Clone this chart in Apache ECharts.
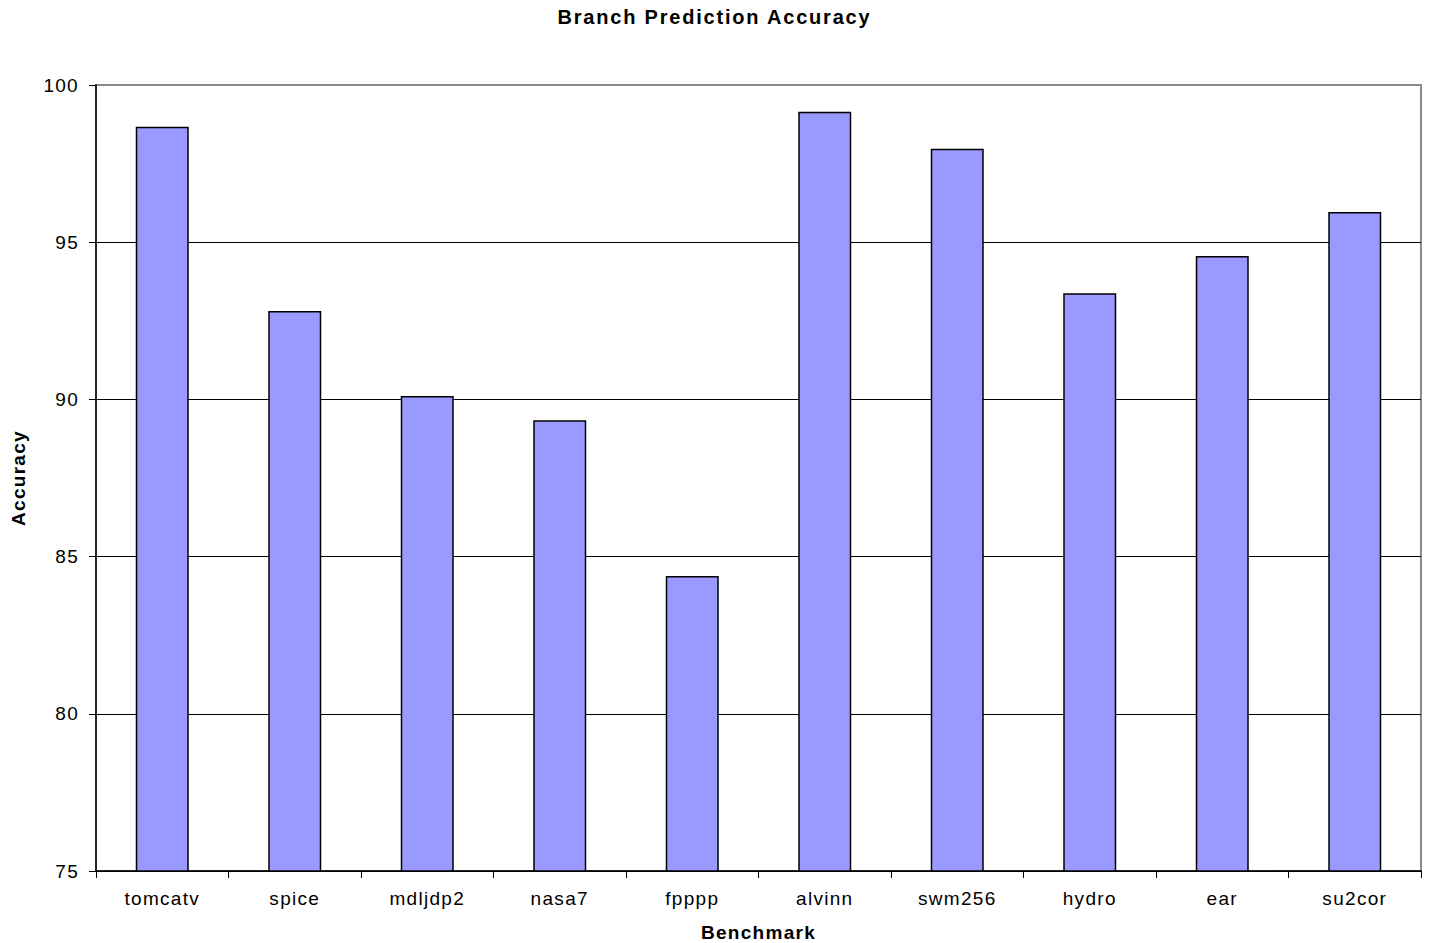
<!DOCTYPE html>
<html>
<head>
<meta charset="utf-8">
<title>Branch Prediction Accuracy</title>
<script src="https://cdn.jsdelivr.net/npm/echarts@6/dist/echarts.min.js"></script>
<style>
  html, body { margin: 0; padding: 0; background: #fff; }
  #chart { width: 1429px; height: 943px; }
</style>
</head>
<body>
<div id="chart"></div>
<script>
// Benchmarks and their branch prediction accuracy (%)
const benchmarks = ['tomcatv', 'spice', 'mdljdp2', 'nasa7', 'fpppp', 'alvinn', 'swm256', 'hydro', 'ear', 'su2cor'];
const accuracy = [98.67, 92.81, 90.11, 89.34, 84.38, 99.15, 97.97, 93.38, 94.56, 95.96];

// Value axis range and step
const yMin = 75;
const yMax = 100;
const yStep = 5;

const FONT = "'Liberation Sans', Arial, Helvetica, sans-serif";

const chart = echarts.init(document.getElementById('chart'), null, { renderer: 'svg' });

chart.setOption({
  animation: false,
  backgroundColor: '#ffffff',
  title: {
    text: 'Branch Prediction Accuracy',
    left: 'center',
    top: 2,
    textStyle: { fontFamily: FONT, fontSize: 20, fontWeight: 'bold', color: '#000' }
  },
  grid: {
    left: 96, right: 8, top: 85, bottom: 72,
    outerBoundsMode: 'none',
    containLabel: false,
    show: true,
    borderColor: '#8a8a8a',
    borderWidth: 2,
    backgroundColor: '#ffffff'
  },
  xAxis: {
    type: 'category',
    data: benchmarks,
    name: 'Benchmark',
    nameLocation: 'middle',
    nameGap: 52,
    nameTextStyle: { fontFamily: FONT, fontSize: 19, fontWeight: 'bold', color: '#000' },
    axisLine: { show: true, lineStyle: { color: '#000', width: 1.5 } },
    axisTick: { show: true, alignWithLabel: false, length: 7, lineStyle: { color: '#000', width: 1 } },
    axisLabel: { fontFamily: FONT, fontSize: 19, color: '#000', margin: 18, interval: 0 },
    splitLine: { show: false }
  },
  yAxis: {
    type: 'value',
    min: yMin,
    max: yMax,
    interval: yStep,
    name: 'Accuracy',
    nameLocation: 'middle',
    nameGap: 68,
    nameRotate: 90,
    nameTextStyle: { fontFamily: FONT, fontSize: 19, fontWeight: 'bold', color: '#000' },
    axisLine: { show: true, lineStyle: { color: '#000', width: 1.5 } },
    axisTick: { show: true, length: 7, lineStyle: { color: '#000', width: 1 } },
    axisLabel: { fontFamily: FONT, fontSize: 19, color: '#000', margin: 17 },
    splitLine: {
      show: true,
      lineStyle: { color: ['#000', '#000', '#000', '#000', '#000', '#8a8a8a'], width: 1 }
    }
  },
  series: [{
    type: 'bar',
    data: accuracy,
    barWidth: '40%',
    itemStyle: { color: '#9999ff', borderColor: '#000', borderWidth: 1.5 }
  }]
});

// Widen the tracking of the drawn text a little, in the classic spreadsheet chart style
function spaceText() {
  document.querySelectorAll('#chart svg text').forEach(function (t) {
    const s = t.textContent;
    t.style.letterSpacing = (s === 'Branch Prediction Accuracy') ? '1.8px' : '1.3px';
  });
}
chart.on('finished', spaceText);
spaceText();
</script>
</body>
</html>
